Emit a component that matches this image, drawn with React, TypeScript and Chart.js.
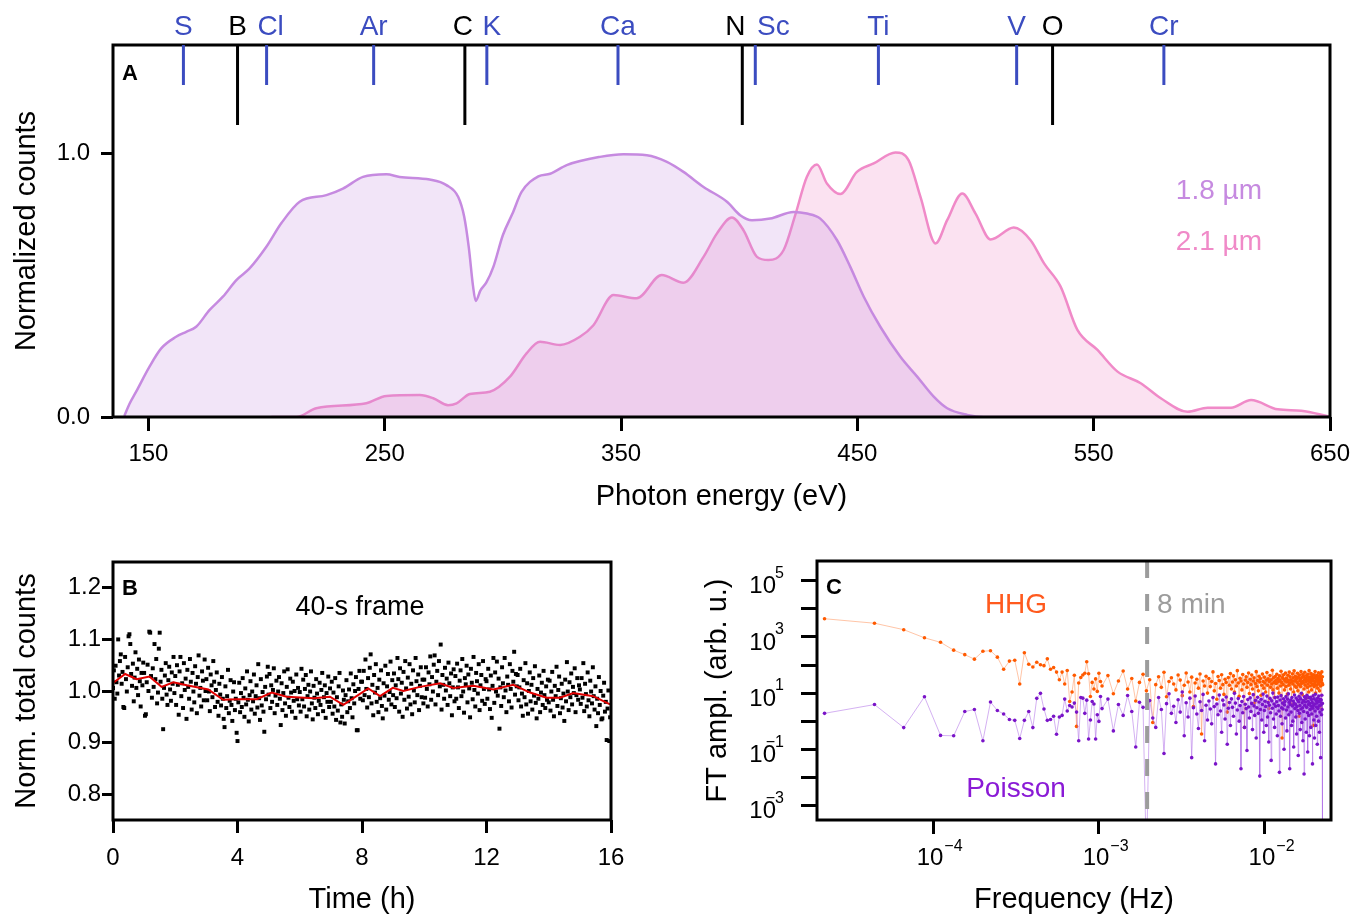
import React, { useEffect, useRef } from "react";
import { Chart, registerables } from "chart.js";

Chart.register(...registerables);

const FONT = "'Liberation Sans', Arial, Helvetica, sans-serif";
Chart.defaults.font.family = FONT;
Chart.defaults.color = "#000";

// ---------------- Panel A: spectra ----------------
const energy18 = [139.8, 142, 144.8, 150.4, 155.4, 161.7, 166, 170.2, 175.8, 181.5, 187.2, 192.8, 199.9, 206.2, 214, 225.3, 232.3, 240.8, 250.7, 256.3, 269, 276.1, 281.1, 283.6, 285.6, 287.3, 288.5, 290.5, 293, 296, 300, 304, 307.9, 315, 320, 327, 341.1, 351, 360.9, 369.4, 376.4, 384.9, 394.8, 400.4, 405.4, 413.1, 423, 428.6, 434.3, 441.4, 447, 452.7, 459.7, 468.2, 475.3, 482.3, 488, 496.5, 503.5, 550, 650];
const counts18 = [0.004, 0.05, 0.096, 0.19, 0.26, 0.304, 0.323, 0.342, 0.405, 0.456, 0.519, 0.563, 0.645, 0.734, 0.816, 0.841, 0.866, 0.91, 0.92, 0.91, 0.9, 0.879, 0.834, 0.76, 0.64, 0.5, 0.44, 0.48, 0.51, 0.57, 0.69, 0.77, 0.853, 0.912, 0.922, 0.955, 0.986, 0.996, 0.992, 0.967, 0.929, 0.872, 0.816, 0.765, 0.746, 0.752, 0.777, 0.771, 0.752, 0.67, 0.569, 0.456, 0.342, 0.228, 0.153, 0.077, 0.033, 0.008, 0.0, 0.0, 0.0];
const energy21 = [202, 212.6, 221, 242.2, 250.7, 264.8, 270.5, 276.8, 280.4, 286, 294.5, 303, 310, 315.7, 324.2, 332.6, 338.3, 346.8, 356.6, 367.2, 376.4, 384.9, 390.6, 396.9, 401.8, 407.5, 412.4, 418.8, 423.7, 428.6, 432.9, 437.1, 442.8, 449.8, 456.9, 466.1, 471.7, 476.7, 483.1, 488, 494.4, 500, 506.4, 516.2, 523.3, 529, 536, 543.1, 551.6, 560.1, 569.9, 578.4, 589.7, 598.2, 608.1, 616.6, 627.9, 637.8, 650];
const counts21 = [0, 0, 0.033, 0.052, 0.08, 0.083, 0.071, 0.045, 0.052, 0.087, 0.096, 0.153, 0.241, 0.285, 0.273, 0.304, 0.348, 0.462, 0.45, 0.538, 0.509, 0.607, 0.696, 0.756, 0.708, 0.607, 0.595, 0.633, 0.765, 0.91, 0.957, 0.885, 0.845, 0.929, 0.961, 1.003, 0.973, 0.834, 0.658, 0.746, 0.847, 0.771, 0.673, 0.718, 0.67, 0.582, 0.494, 0.33, 0.254, 0.172, 0.128, 0.071, 0.02, 0.035, 0.035, 0.064, 0.029, 0.024, 0.001];
const energyTicks = [150, 250, 350, 450, 550, 650];
const countTicks = [0, 1];
const edgeLabels = ["S", "B", "Cl", "Ar", "C", "K", "Ca", "N", "Sc", "Ti", "V", "O", "Cr"];
const edgeEnergies = [164.8, 187.7, 200, 245.3, 283.9, 293.2, 348.7, 401.3, 406.8, 458.9, 517.4, 532.6, 579.7];
const edgeShells = ["L", "K", "L", "L", "K", "L", "L", "K", "L", "L", "L", "K", "L"];

// ---------------- Panel B: stability ----------------
const frameCounts = [
  1.006, 1.040, 0.985, 1.049, 1.017, 0.995, 1.100, 1.030, 1.058, 1.071, 1.014, 1.037, 0.969, 0.967, 1.066, 1.023, 0.999, 1.046, 1.106, 1.110, 1.091, 1.033, 1.010, 1.053, 0.980, 1.026, 1.075, 1.006, 1.043, 0.992, 1.061, 1.019, 0.970, 1.035, 1.011, 1.055,
  1.035, 0.952, 0.955, 1.017, 1.051, 1.000, 1.115, 1.113, 1.029, 0.987, 1.044, 1.008, 1.091, 1.023, 1.062, 0.976, 0.997, 1.082, 1.113, 1.018, 1.041, 0.985, 0.926, 1.006, 1.030, 1.054, 0.993, 0.973, 1.021, 1.047, 1.003, 0.981, 1.036, 1.014, 1.066, 0.996,
  1.029, 0.973, 1.050, 1.012, 0.954, 1.038, 1.066, 0.990, 1.015, 0.967, 1.054, 1.002, 1.024, 0.946, 1.041, 1.008, 0.985, 1.062, 1.018, 0.964, 1.035, 0.999, 0.978, 1.048, 1.014, 0.957, 1.027, 1.069, 0.991, 1.006, 0.970, 1.038, 1.020, 0.982, 1.061, 1.000,
  1.023, 0.982, 1.045, 0.999, 0.961, 1.032, 1.011, 0.988, 1.058, 1.018, 0.969, 1.002, 1.036, 0.979, 0.952, 1.014, 0.993, 0.972, 1.027, 0.985, 0.946, 0.930, 1.009, 0.967, 0.990, 1.041, 0.957, 0.981, 1.021, 0.973, 0.942, 0.999, 1.017, 0.963, 0.985, 0.919,
  0.903, 0.978, 1.016, 0.959, 0.996, 0.969, 1.025, 0.987, 0.950, 1.005, 0.974, 1.038, 0.983, 0.941, 0.992, 1.019, 0.964, 0.999, 0.980, 1.032, 0.956, 0.990, 1.011, 0.968, 1.052, 0.986, 0.944, 1.023, 0.972, 0.998, 0.960, 0.921, 1.008, 0.984, 1.028, 1.047,
  0.993, 1.033, 0.967, 1.011, 0.979, 1.002, 1.044, 0.957, 0.991, 1.020, 0.973, 0.999, 1.027, 0.985, 0.934, 1.015, 0.963, 0.996, 1.038, 0.976, 0.952, 1.008, 1.042, 0.987, 0.969, 1.024, 0.997, 0.960, 1.018, 0.981, 1.000, 0.948, 1.032, 0.984, 1.006, 0.972,
  0.998, 0.960, 1.043, 0.984, 1.022, 0.970, 1.004, 1.031, 0.951, 0.990, 1.012, 0.964, 0.999, 1.038, 0.976, 0.945, 1.010, 0.987, 0.967, 1.023, 0.995, 0.955, 0.981, 1.016, 0.973, 1.002, 1.035, 0.961, 0.988, 1.011, 0.948, 0.996, 0.979, 1.028, 0.969, 1.005,
  0.979, 1.018, 0.956, 0.997, 0.970, 1.025, 0.944, 0.988, 0.962, 1.009, 1.035, 0.939, 0.974, 0.950, 1.001, 0.983, 0.937, 0.992, 1.021, 0.959, 0.980, 1.003, 0.967, 1.034, 0.986, 0.949, 1.013, 0.976, 1.000, 1.027, 0.924, 0.924, 1.004, 1.039, 0.985, 1.018,
  1.018, 0.982, 1.039, 0.992, 1.061, 1.004, 0.968, 1.025, 0.988, 1.045, 1.071, 0.976, 1.012, 0.953, 1.031, 0.997, 1.052, 0.979, 1.006, 0.959, 1.022, 0.986, 1.040, 0.971, 0.947, 1.015, 0.991, 1.049, 0.964, 1.009, 1.033, 0.983, 0.998, 1.057, 0.974, 1.021,
  0.992, 1.034, 0.969, 1.011, 0.986, 1.064, 1.023, 0.960, 1.044, 0.995, 1.016, 0.950, 1.037, 0.983, 1.058, 1.005, 0.966, 1.026, 0.989, 1.052, 0.974, 1.014, 0.955, 1.040, 1.001, 0.978, 1.064, 1.019, 0.992, 1.032, 0.963, 1.010, 1.046, 0.988, 1.022, 0.976,
  1.022, 0.987, 1.046, 1.004, 0.970, 1.036, 1.013, 1.067, 0.983, 1.027, 0.999, 1.051, 1.069, 0.974, 1.018, 1.039, 0.992, 1.058, 1.009, 1.090, 0.964, 1.031, 1.012, 0.985, 1.045, 1.001, 1.024, 0.973, 1.055, 1.015, 0.990, 1.034, 0.953, 1.007, 1.042, 0.980,
  1.029, 0.985, 1.053, 1.007, 0.967, 1.020, 1.040, 0.990, 1.062, 0.999, 0.958, 1.025, 1.013, 1.049, 0.978, 1.032, 1.005, 0.949, 1.043, 1.016, 0.984, 1.066, 1.002, 0.970, 1.035, 1.019, 0.995, 1.052, 0.963, 1.011, 1.031, 0.981, 1.058, 1.004, 0.975, 1.023,
  1.019, 0.985, 1.043, 1.003, 0.965, 1.030, 0.948, 1.010, 1.064, 0.977, 1.036, 0.999, 1.057, 0.991, 1.024, 0.927, 1.007, 0.971, 1.046, 1.015, 0.988, 1.064, 1.001, 0.959, 1.028, 1.012, 0.980, 1.052, 1.004, 0.968, 1.039, 1.018, 1.076, 0.993, 1.033, 1.009,
  1.031, 0.982, 1.007, 1.043, 0.970, 0.995, 0.952, 1.021, 0.988, 1.054, 0.974, 1.015, 0.956, 1.000, 1.036, 0.980, 1.012, 0.964, 1.025, 0.991, 1.048, 0.977, 0.947, 1.004, 0.985, 1.030, 0.959, 0.997, 1.016, 0.973, 1.039, 0.992, 0.967, 1.009, 0.983, 1.022,
  0.978, 1.020, 0.962, 0.999, 1.037, 0.983, 0.951, 1.010, 0.990, 1.047, 0.971, 1.002, 1.028, 0.957, 0.986, 1.014, 0.968, 0.995, 0.942, 1.022, 0.980, 1.056, 0.999, 0.963, 1.017, 0.988, 1.034, 0.974, 1.008, 0.996, 1.044, 0.959, 0.992, 1.025, 0.983, 1.011,
  1.003, 0.975, 1.025, 0.987, 1.054, 0.961, 1.014, 0.994, 0.970, 1.036, 0.982, 0.951, 1.020, 0.999, 0.976, 1.046, 0.990, 0.964, 1.009, 0.932, 0.985, 0.957, 1.027, 0.973, 1.000, 0.945, 0.947, 0.991, 1.016, 0.960, 0.979, 0.905, 0.966, 1.001, 0.903, 0.949,
];
const framesPerHour = 36;
const avgTimes = [0.01, 0.39, 0.76, 1.17, 1.56, 1.94, 2.37, 3.06, 3.54, 3.97, 4.62, 5.1, 5.58, 6.44, 6.97, 7.4, 8.2, 8.58, 8.99, 9.33, 9.86, 10.51, 10.93, 11.58, 12.22, 12.86, 13.4, 13.93, 14.36, 14.79, 15.43, 15.97];
const avgCounts = [1.016, 1.033, 1.023, 1.028, 1.008, 1.017, 1.011, 1.003, 0.983, 0.984, 0.984, 0.997, 0.989, 0.986, 0.989, 0.973, 1.005, 0.99, 1.006, 1.0, 1.008, 1.015, 1.006, 1.01, 1.003, 1.012, 0.997, 0.987, 0.987, 0.996, 0.99, 0.974];
const timeTicks = [0, 4, 8, 12, 16];
const normTicks = [0.8, 0.9, 1.0, 1.1, 1.2];

// ---------------- Panel C: Fourier amplitude ----------------
const fftBinHz = 2.22e-5;
const hhgLow = [4470, 3090, 1820, 933, 646, 339, 234, 162, 309, 324, 191, 71, 138, 148, 21, 275, 107, 85, 126, 102, 95, 166, 71, 82, 56, 30, 56, 21, 64, 5.0, 11, 43, 0.65, 23, 36, 44, 51, 131, 49, 7.6, 24, 14, 32, 11.5, 51, 26];
const poissonLow = [1.9, 3.9, 0.59, 7.4, 0.31, 0.3, 2.2, 2.6, 0.2, 4.8, 2.4, 1.8, 1.15, 1.07, 0.24, 1.07, 2.2, 0.59, 6.5, 9.8, 2.7, 1.07, 1.15, 1.5, 0.34, 1.4, 1.6, 6.1, 2.3, 3.6, 3.2, 4.4, 2.1, 0.2, 7.0, 6.6, 1.9, 5.6, 0.23, 1.1, 5.0, 4.1, 0.23, 1.7, 0.98, 7.6];
const denseBinStart = 47;
const denseBinStep = 4;
const hhgDense = [
  18, 42, 9.5, 27, 61, 14, 33, 5.2, 24, 47, 12, 30, 0.9, 20, 38, 16, 55, 7.4, 26, 35,
  21, 13, 44, 29, 8.1, 19, 52, 25, 11, 37, 3.3, 23, 31, 15, 48, 0.35, 27, 18, 40, 10,
  33, 17, 26, 57, 12, 22, 6.0, 39, 28, 15, 45, 20, 9.0, 31, 24, 2.1, 36, 19, 50, 14,
  25, 41, 11, 30, 18, 63, 23, 7.7, 34, 27, 13, 46, 21, 0.6, 29, 38, 16, 24, 52, 9.6,
  31, 20, 44, 14, 27, 35, 4.5, 22, 58, 17, 28, 12, 40, 25, 33, 8.4, 19, 48, 26, 15,
  37, 23, 11, 29, 54, 19, 32, 2.8, 26, 42, 16, 30, 21, 65, 13, 35, 24, 7.0, 39, 28,
  22, 47, 15, 33, 26, 10, 41, 29, 18, 60, 24, 0.25, 36, 20, 45, 31, 13, 27, 52, 17,
  34, 25, 9.2, 43, 28, 19, 56, 23, 38, 14, 30, 4.0, 26, 49, 21, 35, 11, 62, 27, 18,
  40, 29, 16, 33, 24, 51, 12, 37, 20, 1.5, 44, 27, 31, 17, 58, 22, 36, 8.8, 26, 46,
  23, 39, 14, 30, 55, 19, 34, 25, 6.5, 42, 28, 16, 47, 21, 36, 11, 63, 26, 31, 18,
  37, 24, 50, 13, 29, 41, 20, 33, 0.7, 27, 45, 17, 35, 22, 59, 26, 10, 38, 30, 19,
  43, 28, 15, 36, 24, 53, 21, 32, 12, 40, 26, 48, 18, 34, 3.0, 29, 57, 23, 38, 20,
];
const poissonDense = [
  2.8, 6.1, 0.45, 3.9, 1.6, 8.2, 2.2, 0.12, 4.7, 3.1, 0.00001, 5.4, 1.3, 0.6, 7.0, 2.6, 0.07, 4.2, 9.5, 1.9,
  3.4, 0.9, 5.8, 2.1, 11, 0.3, 4.5, 1.4, 6.6, 0.05, 3.0, 7.9, 1.8, 0.55, 4.9, 2.4, 9.0, 0.2, 3.7, 1.1,
  5.2, 2.7, 0.8, 6.9, 3.3, 0.03, 4.1, 1.7, 8.5, 2.3, 0.4, 5.6, 3.8, 1.2, 7.3, 0.15, 2.9, 4.6, 0.7, 6.2,
  3.1, 1.5, 9.8, 4.4, 0.35, 2.5, 6.4, 1.0, 3.6, 0.02, 5.0, 2.0, 7.6, 0.6, 4.0, 2.8, 0.09, 5.9, 3.2, 1.3,
  6.8, 2.2, 4.3, 0.5, 8.8, 3.5, 1.6, 5.5, 0.25, 3.0, 7.1, 1.9, 4.8, 0.011, 2.6, 6.0, 1.1, 3.9, 9.2, 0.4,
  2.4, 5.1, 3.3, 0.7, 7.8, 1.4, 4.6, 0.18, 3.7, 6.5, 2.0, 0.04, 5.3, 2.9, 10, 1.2, 4.1, 0.6, 6.9, 3.4,
  1.8, 4.9, 0.3, 7.2, 3.6, 2.3, 0.015, 5.7, 1.5, 8.1, 3.0, 0.8, 4.4, 2.7, 6.3, 0.1, 3.8, 5.0, 1.3, 7.5,
  2.5, 0.45, 6.1, 3.2, 9.4, 1.7, 4.7, 0.02, 3.9, 5.6, 2.1, 0.7, 7.0, 3.5, 1.0, 5.2, 0.12, 4.3, 8.6, 2.8,
  4.0, 1.4, 6.7, 0.35, 3.3, 5.8, 2.4, 0.06, 4.9, 7.7, 1.9, 3.6, 0.5, 6.2, 2.7, 9.9, 0.9, 4.5, 3.0, 0.2,
  5.5, 2.2, 0.013, 7.4, 3.7, 1.2, 4.8, 6.5, 0.4, 3.1, 8.3, 2.0, 0.08, 5.1, 3.9, 1.6, 6.9, 0.3, 4.2, 2.6,
  7.1, 0.6, 3.4, 5.9, 1.8, 4.6, 0.03, 2.9, 8.0, 3.6, 1.1, 6.3, 0.25, 4.1, 2.3, 9.1, 0.7, 5.4, 3.2, 1.5,
  4.4, 0.15, 6.6, 2.8, 5.0, 1.0, 7.8, 3.5, 0.4, 4.9, 2.1, 6.0, 0.05, 3.8, 5.7, 1.7, 8.4, 2.6, 4.3, 0.00001,
];
const freqTicks = [1e-4, 1e-3, 1e-2];
const freqLabelExps = [-4, -3, -2];
const ampTicks = [1e-3, 1e-2, 1e-1, 1, 10, 100, 1e3, 1e4, 1e5];
const ampLabelExps = [5, 3, 1, -1, -3];
const periodMarkerHz = 1.95e-3;

// ---------------- styling ----------------
const PURPLE = "#c68ae0";
const PINK = "#f08ac8";
const EDGE_BLUE = "#3b4cc0";
const HHG_COLOR = "#ff5a00";
const POISSON_COLOR = "#7a14c8";
// small horizontal nudges so neighbouring edge labels do not collide
const EDGE_LABEL_NUDGE: Record<string, number> = { Cl: 4, C: -2, K: 5, N: -7, Sc: 18 };

const tickGrid = (len: number) => ({
  drawOnChartArea: false,
  drawTicks: true,
  tickLength: len,
  tickWidth: 3,
  tickColor: "#000",
  color: "#000",
  lineWidth: 3,
});

const noEdgePadding = (s: any) => {
  s.paddingLeft = 0;
  s.paddingRight = 0;
  s.paddingTop = 0;
  s.paddingBottom = 0;
};

const framePlugin = {
  id: "frame",
  afterDraw(chart: any) {
    const { ctx, chartArea: a } = chart;
    ctx.save();
    ctx.strokeStyle = "#000";
    ctx.lineWidth = 3;
    ctx.strokeRect(a.left, a.top, a.right - a.left, a.bottom - a.top);
    ctx.restore();
  },
};

function text(ctx: CanvasRenderingContext2D, s: string, x: number, y: number, font: string, color: string, align: CanvasTextAlign = "center") {
  ctx.font = font;
  ctx.fillStyle = color;
  ctx.textAlign = align;
  ctx.textBaseline = "middle";
  ctx.fillText(s, x, y);
}

function configA(): any {
  const annot = {
    id: "annotA",
    afterDraw(chart: any) {
      const { ctx, chartArea: a, scales } = chart;
      ctx.save();
      edgeEnergies.forEach((e, i) => {
        const px = scales.x.getPixelForValue(e);
        const isK = edgeShells[i] === "K";
        const color = isK ? "#000" : EDGE_BLUE;
        ctx.strokeStyle = color;
        ctx.lineWidth = 3;
        ctx.beginPath();
        ctx.moveTo(px, a.top);
        ctx.lineTo(px, a.top + (isK ? 80 : 40));
        ctx.stroke();
        const nudge = EDGE_LABEL_NUDGE[edgeLabels[i]] || 0;
        text(ctx, edgeLabels[i], px + nudge, a.top - 18, `28px ${FONT}`, color);
      });
      text(ctx, "A", a.left + 9, a.top + 29, `bold 22px ${FONT}`, "#000", "left");
      text(ctx, "1.8 µm", a.right - 68, a.top + 146, `28px ${FONT}`, PURPLE, "right");
      text(ctx, "2.1 µm", a.right - 68, a.top + 197, `28px ${FONT}`, PINK, "right");
      ctx.restore();
    },
  };
  return {
    type: "line",
    data: {
      datasets: [
        {
          label: "2.1 µm",
          data: energy21.map((x, i) => ({ x, y: counts21[i] })),
          borderColor: PINK,
          backgroundColor: "rgba(240,138,200,0.25)",
          fill: "origin",
          borderWidth: 2.5,
          pointRadius: 0,
          cubicInterpolationMode: "monotone",
          order: 1,
        },
        {
          label: "1.8 µm",
          data: energy18.map((x, i) => ({ x, y: counts18[i] })),
          borderColor: PURPLE,
          backgroundColor: "rgba(198,138,224,0.22)",
          fill: "origin",
          borderWidth: 2.5,
          pointRadius: 0,
          cubicInterpolationMode: "monotone",
          order: 0,
        },
      ],
    },
    options: {
      animation: false,
      responsive: false,
      devicePixelRatio: 1,
      layout: { padding: { left: 0, top: 45, right: 23, bottom: 0 } },
      plugins: { legend: { display: false }, tooltip: { enabled: false } },
      scales: {
        x: {
          type: "linear",
          min: 135,
          max: 650,
          afterBuildTicks: (s: any) => { s.ticks = energyTicks.map((v) => ({ value: v })); },
          afterFit: (s: any) => { s.height = 103; noEdgePadding(s); },
          grid: tickGrid(14),
          border: { display: false },
          ticks: { font: { size: 24 }, color: "#000", padding: 9, maxRotation: 0, autoSkip: false, callback: (v: any) => String(v) },
          title: { display: true, text: "Photon energy (eV)", font: { size: 29, lineHeight: 1 }, color: "#000", padding: { top: 0, bottom: 9 } },
        },
        y: {
          type: "linear",
          min: 0,
          max: 1.41,
          afterBuildTicks: (s: any) => { s.ticks = countTicks.map((v) => ({ value: v })); },
          afterFit: (s: any) => { s.width = 113; noEdgePadding(s); },
          grid: tickGrid(12),
          border: { display: false },
          ticks: { font: { size: 24 }, color: "#000", padding: 11, callback: (v: any) => Number(v).toFixed(1) },
          title: { display: true, text: "Normalized counts", font: { size: 29, lineHeight: 1 }, color: "#000", padding: { top: 12, bottom: 0 } },
        },
      },
    },
    plugins: [framePlugin, annot],
  };
}

function configB(): any {
  const annot = {
    id: "annotB",
    afterDraw(chart: any) {
      const { ctx, chartArea: a } = chart;
      ctx.save();
      text(ctx, "B", a.left + 9, a.top + 27, `bold 22px ${FONT}`, "#000", "left");
      text(ctx, "40-s frame", a.left + 247, a.top + 46, `27px ${FONT}`, "#000");
      ctx.restore();
    },
  };
  return {
    type: "scatter",
    data: {
      datasets: [
        {
          label: "average",
          type: "line",
          data: avgTimes.map((x, i) => ({ x, y: avgCounts[i] })),
          borderColor: "#e00000",
          borderWidth: 2,
          pointRadius: 0,
          tension: 0,
          fill: false,
          order: 0,
        },
        {
          label: "frames",
          data: frameCounts.map((y, i) => ({ x: i / framesPerHour, y })),
          pointStyle: "rect",
          pointRadius: 2.8,
          backgroundColor: "#000",
          borderWidth: 0,
          order: 1,
        },
      ],
    },
    options: {
      animation: false,
      responsive: false,
      devicePixelRatio: 1,
      layout: { padding: { left: 0, top: 32, right: 69, bottom: 0 } },
      plugins: { legend: { display: false }, tooltip: { enabled: false } },
      scales: {
        x: {
          type: "linear",
          min: 0,
          max: 16,
          afterBuildTicks: (s: any) => { s.ticks = timeTicks.map((v) => ({ value: v })); },
          afterFit: (s: any) => { s.height = 95; noEdgePadding(s); },
          grid: tickGrid(13),
          border: { display: false },
          ticks: { font: { size: 24 }, color: "#000", padding: 11, maxRotation: 0, autoSkip: false, callback: (v: any) => String(v) },
          title: { display: true, text: "Time (h)", font: { size: 29, lineHeight: 1 }, color: "#000", padding: { top: 0, bottom: 1 } },
        },
        y: {
          type: "linear",
          min: 0.75,
          max: 1.25,
          afterBuildTicks: (s: any) => { s.ticks = normTicks.map((v) => ({ value: v })); },
          afterFit: (s: any) => { s.width = 113; noEdgePadding(s); },
          grid: tickGrid(11),
          border: { display: false },
          ticks: { font: { size: 24 }, color: "#000", padding: 1, callback: (v: any) => Number(v).toFixed(1) },
          title: { display: true, text: "Norm. total counts", font: { size: 29, lineHeight: 1 }, color: "#000", padding: { top: 12, bottom: 0 } },
        },
      },
    },
    plugins: [framePlugin, annot],
  };
}

function configC(): any {
  const hhgPoints = [
    ...hhgLow.map((y, i) => ({ x: (i + 1) * fftBinHz, y })),
    ...hhgDense.map((y, i) => ({ x: (denseBinStart + i * denseBinStep) * fftBinHz, y })),
  ];
  const poissonPoints = [
    ...poissonLow.map((y, i) => ({ x: (i + 1) * fftBinHz, y })),
    ...poissonDense.map((y, i) => ({ x: (denseBinStart + i * denseBinStep) * fftBinHz, y })),
  ];
  const annot = {
    id: "annotC",
    afterDatasetsDraw(chart: any) {
      const { ctx, chartArea: a, scales } = chart;
      const px = scales.x.getPixelForValue(periodMarkerHz);
      ctx.save();
      ctx.beginPath();
      ctx.rect(a.left, a.top, a.right - a.left, a.bottom - a.top);
      ctx.clip();
      ctx.strokeStyle = "#9c9c9c";
      ctx.lineWidth = 4;
      ctx.setLineDash([17, 16]);
      ctx.beginPath();
      ctx.moveTo(px, a.top);
      ctx.lineTo(px, a.bottom);
      ctx.stroke();
      ctx.restore();
    },
    afterDraw(chart: any) {
      const { ctx, chartArea: a, scales } = chart;
      const px = scales.x.getPixelForValue(periodMarkerHz);
      ctx.save();
      text(ctx, "C", a.left + 9, a.top + 27, `bold 22px ${FONT}`, "#000", "left");
      text(ctx, "HHG", a.left + 199, a.top + 44, `28px ${FONT}`, "#ff5a1e");
      text(ctx, "Poisson", a.left + 199, a.top + 228, `28px ${FONT}`, "#8a1ad6");
      text(ctx, "8 min", px + 10, a.top + 44, `28px ${FONT}`, "#9c9c9c", "left");
      ampLabelExps.forEach((e) => {
        const py = scales.y.getPixelForValue(Math.pow(10, e));
        text(ctx, "10", a.left - 41, py + 6, `24px ${FONT}`, "#000", "right");
        text(ctx, e < 0 ? `\u2212${-e}` : `${e}`, a.left - 33, py - 7, `16px ${FONT}`, "#000", "right");
      });
      freqLabelExps.forEach((e) => {
        const px2 = scales.x.getPixelForValue(Math.pow(10, e));
        ctx.font = `24px ${FONT}`;
        const w = ctx.measureText("10").width;
        text(ctx, "10", px2 - 3, a.bottom + 38, `24px ${FONT}`, "#000", "center");
        text(ctx, `\u2212${-e}`, px2 - 3 + w / 2 + 1, a.bottom + 27, `16px ${FONT}`, "#000", "left");
      });
      ctx.restore();
    },
  };
  return {
    type: "scatter",
    data: {
      datasets: [
        {
          label: "Poisson",
          data: poissonPoints,
          showLine: true,
          borderColor: "rgba(170,100,230,0.5)",
          borderWidth: 1,
          pointRadius: 1.8,
          pointBackgroundColor: POISSON_COLOR,
          pointBorderWidth: 0,
          order: 0,
        },
        {
          label: "HHG",
          data: hhgPoints,
          showLine: true,
          borderColor: "rgba(255,140,80,0.5)",
          borderWidth: 1,
          pointRadius: 1.8,
          pointBackgroundColor: HHG_COLOR,
          pointBorderWidth: 0,
          order: 1,
        },
      ],
    },
    options: {
      animation: false,
      responsive: false,
      devicePixelRatio: 1,
      layout: { padding: { left: 0, top: 31, right: 22, bottom: 0 } },
      plugins: { legend: { display: false }, tooltip: { enabled: false } },
      scales: {
        x: {
          type: "logarithmic",
          min: 2.0e-5,
          max: 0.025,
          afterBuildTicks: (s: any) => { s.ticks = freqTicks.map((v) => ({ value: v })); },
          afterFit: (s: any) => { s.height = 95; noEdgePadding(s); },
          grid: tickGrid(14),
          border: { display: false },
          ticks: { display: false },
          title: { display: true, text: "Frequency (Hz)", font: { size: 29, lineHeight: 1 }, color: "#000", padding: { top: 0, bottom: 1 } },
        },
        y: {
          type: "logarithmic",
          min: 3.0e-4,
          max: 5.1e5,
          afterBuildTicks: (s: any) => { s.ticks = ampTicks.map((v) => ({ value: v })); },
          afterFit: (s: any) => { s.width = 137; noEdgePadding(s); },
          grid: tickGrid(16),
          border: { display: false },
          ticks: { display: false },
          title: { display: true, text: "FT ampl. (arb. u.)", font: { size: 29, lineHeight: 1 }, color: "#000", padding: { top: 23, bottom: 0 } },
        },
      },
    },
    plugins: [framePlugin, annot],
  };
}

export default function App() {
  const refA = useRef<HTMLCanvasElement>(null);
  const refB = useRef<HTMLCanvasElement>(null);
  const refC = useRef<HTMLCanvasElement>(null);

  useEffect(() => {
    const charts = [
      new Chart(refA.current as HTMLCanvasElement, configA()),
      new Chart(refB.current as HTMLCanvasElement, configB()),
      new Chart(refC.current as HTMLCanvasElement, configC()),
    ];
    return () => charts.forEach((c) => c.destroy());
  }, []);

  return (
    <div style={{ position: "absolute", left: 0, top: 0, width: 1353, height: 915, background: "#fff" }}>
      <canvas ref={refA} width={1353} height={520} style={{ position: "absolute", left: 0, top: 0, width: 1353, height: 520 }} />
      <canvas ref={refB} width={680} height={385} style={{ position: "absolute", left: 0, top: 530, width: 680, height: 385 }} />
      <canvas ref={refC} width={673} height={385} style={{ position: "absolute", left: 680, top: 530, width: 673, height: 385 }} />
    </div>
  );
}
